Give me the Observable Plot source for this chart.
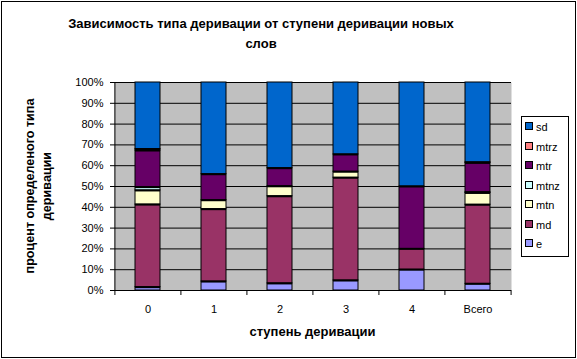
<!DOCTYPE html>
<html>
<head>
<meta charset="utf-8">
<script src="https://cdn.jsdelivr.net/npm/d3@7"></script>
<script src="https://cdn.jsdelivr.net/npm/@observablehq/plot@0.6"></script>
<style>
  html, body { margin: 0; padding: 0; background: #fff; }
  #wrap { position: relative; width: 577px; height: 359px; font-family: "Liberation Sans", Arial, sans-serif; }
  #frame { position: absolute; left: 1px; top: 1px; width: 573px; height: 355px; border: 1px solid #000; pointer-events: none; }
  #title { position: absolute; left: 61px; width: 400px; top: 14px; text-align: center; font-weight: bold; font-size: 13px; line-height: 20px; color: #000; }
  #ytitle { position: absolute; left: 39px; top: 186px; width: 230px; transform: translate(-50%, -50%) rotate(-90deg); text-align: center; font-weight: bold; font-size: 12.6px; line-height: 17px; }
  #xtitle { position: absolute; left: 114px; width: 397px; top: 324px; text-align: center; font-weight: bold; font-size: 13px; }
  #legend { position: absolute; left: 521px; top: 116px; width: 46px; height: 139px; border: 1px solid #000; background: #fff; font-size: 11px; }
  .li { position: absolute; left: 3px; height: 14px; line-height: 14px; }
  .sw { display: inline-block; width: 6px; height: 6px; border: 1px solid #000; margin-right: 3px; vertical-align: 1px; }
</style>
</head>
<body>
<div id="wrap">
  <div id="chart"></div>
  <div id="title">Зависимость типа деривации от ступени деривации новых<br>слов</div>
  <div id="ytitle">процент определеного типа<br>деривации</div>
  <div id="xtitle">ступень деривации</div>
  <div id="legend"></div>
  <div id="frame"></div>
</div>
<script>
const categories = ["0", "1", "2", "3", "4", "Всего"];
const seriesNames = ["e", "md", "mtn", "mtnz", "mtr", "mtrz", "sd"];
const colors = ["#9999FF", "#993366", "#FFFFCC", "#CCFFFF", "#660066", "#FF8080", "#0066CC"];
const e    = [1.6, 4.3, 3.4, 4.8, 10, 3.2];
const md   = [39.7, 34.8, 41.9, 49.4, 10, 38.1];
const mtn  = [6.8, 4.3, 4.8, 2.9, 0, 5.7];
const mtnz = [1.6, 0, 0, 0, 0, 0.3];
const mtr  = [17.6, 12.5, 8.7, 8.3, 30, 14.2];
const mtrz = [0.7, 0, 0, 0, 0, 0.2];
const sd   = [32.0, 44.1, 41.2, 34.6, 50, 38.5];
const yTicks = [0, 10, 20, 30, 40, 50, 60, 70, 80, 90, 100];

const seriesValues = [e, md, mtn, mtnz, mtr, mtrz, sd];
const rows = [];
categories.forEach((c, i) => {
  const total = d3.sum(seriesValues, s => s[i]);
  seriesNames.forEach((s, j) => {
    const v = seriesValues[j][i];
    if (v > 0) rows.push({cat: c, series: s, value: v / total * 100});
  });
});
const topSeries = seriesNames[seriesNames.length - 1];

const step = 397 / 6;
const chart = Plot.plot({
  width: 577,
  height: 359,
  marginLeft: 114,
  marginRight: 66,
  marginTop: 82,
  marginBottom: 69,
  style: {fontFamily: "Liberation Sans, Arial, sans-serif", fontSize: "11px", color: "#000", background: "transparent"},
  x: {domain: categories, paddingInner: 0.62, paddingOuter: 0.31, label: null},
  y: {domain: [0, 100], label: null},
  color: {domain: seriesNames, range: colors},
  marks: [
    Plot.frame({fill: "#C0C0C0", stroke: null}),
    Plot.gridY(yTicks, {stroke: "#000", strokeOpacity: 1, strokeWidth: 1}),
    Plot.barY(rows, Plot.stackY({order: seriesNames}, {x: "cat", y: "value", fill: "series", stroke: "#000", strokeWidth: 1})),
    Plot.tickY(rows, Plot.stackY2({order: seriesNames}, {x: "cat", y: "value", z: "series", stroke: "#000", strokeWidth: 2, filter: d => d.series !== topSeries})),
    Plot.ruleX([categories[0]], {dx: -step / 2, stroke: "#000"}),
    Plot.ruleY([0], {stroke: "#000"}),
    Plot.axisY({ticks: yTicks, tickFormat: d => d + "%", tickSize: 4, tickPadding: 7, stroke: "#000"}),
    Plot.axisX({ticks: categories, tickSize: 5, tickFormat: () => "", dx: -step / 2}),
    Plot.axisX({ticks: [categories[categories.length - 1]], tickSize: 5, tickFormat: () => "", dx: step / 2}),
    Plot.axisX({ticks: categories, tickSize: 0, tickPadding: 15})
  ]
});
document.getElementById("chart").appendChild(chart);

const legend = document.getElementById("legend");
const legendOrder = seriesNames.slice().reverse();
legendOrder.forEach((s, i) => {
  const d = document.createElement("div");
  d.className = "li";
  d.style.top = (3 + i * 19.5) + "px";
  const sw = document.createElement("span");
  sw.className = "sw";
  sw.style.background = colors[seriesNames.indexOf(s)];
  d.appendChild(sw);
  d.appendChild(document.createTextNode(s));
  legend.appendChild(d);
});
</script>
</body>
</html>
